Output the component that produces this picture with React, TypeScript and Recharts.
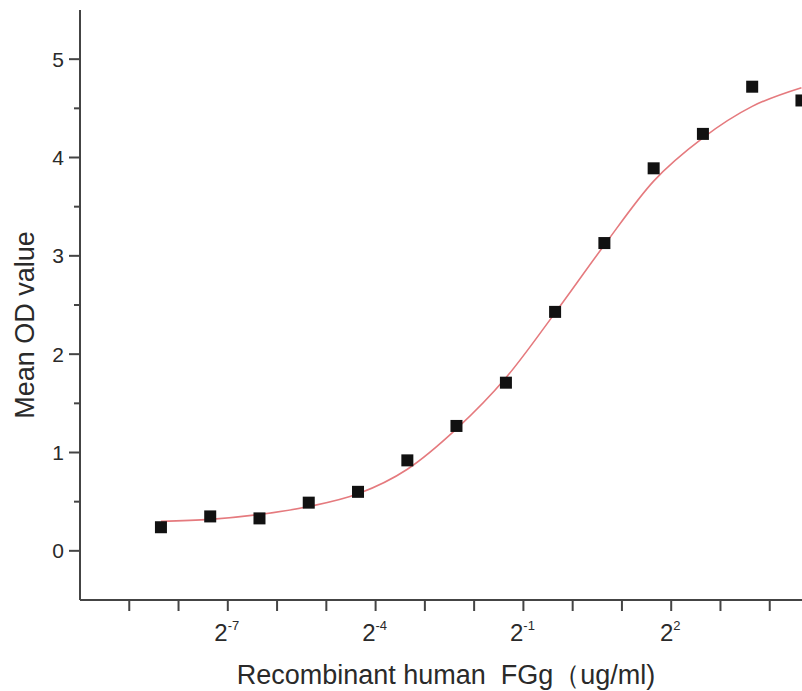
import React from "react";
import { ComposedChart, Label, Line, Scatter, XAxis, YAxis } from "recharts";

// 2-fold dilution series, ug/ml
const concentrations = [
  0.00305, 0.0061, 0.0122, 0.0244, 0.0488, 0.0977, 0.195, 0.391, 0.781, 1.5625, 3.125, 6.25, 12.5, 25,
];
const meanOd = [0.24, 0.35, 0.33, 0.49, 0.6, 0.92, 1.27, 1.71, 2.43, 3.13, 3.89, 4.24, 4.72, 4.58];
const fittedOd = [0.3, 0.32, 0.37, 0.45, 0.58, 0.83, 1.24, 1.76, 2.42, 3.11, 3.76, 4.2, 4.52, 4.71];

const xTickExponents = [-9, -8, -7, -6, -5, -4, -3, -2, -1, 0, 1, 2, 3, 4];
const xLabelledExponents = [-7, -4, -1, 2];
const yTicks = [0, 0.5, 1, 1.5, 2, 2.5, 3, 3.5, 4, 4.5, 5];

const font = '"Liberation Sans", Arial, sans-serif';
const axisColor = "#444";
const textColor = "#2a2a2a";

const chartData = concentrations.map((conc, i) => ({
  conc,
  od: meanOd[i],
  fit: fittedOd[i],
}));

const XTick = (props: any) => {
  const { x, y, payload } = props;
  const exp = Math.round(Math.log2(payload.value));
  const labelled = xLabelledExponents.includes(exp);
  return (
    <g>
      <line x1={x} y1={y} x2={x} y2={y + 11} stroke={axisColor} strokeWidth={2} />
      {labelled && (
        <text x={x - 1} y={641} textAnchor="middle" fontFamily={font} fill={textColor}>
          <tspan fontSize={24}>2</tspan>
          <tspan fontSize={13} dy={-11}>
            {exp}
          </tspan>
        </text>
      )}
    </g>
  );
};

const YTick = (props: any) => {
  const { x, y, payload } = props;
  const major = Number.isInteger(payload.value);
  return (
    <g>
      <line x1={x} y1={y} x2={x - (major ? 11 : 6)} y2={y} stroke={axisColor} strokeWidth={2} />
      {major && (
        <text
          x={64}
          y={y}
          dy="0.36em"
          textAnchor="end"
          fontFamily={font}
          fontSize={21}
          fill={textColor}
        >
          {payload.value}
        </text>
      )}
    </g>
  );
};

const SquareMarker = (props: any) => {
  const { cx, cy } = props;
  if (cx == null || cy == null) return <g />;
  return <rect x={cx - 6} y={cy - 6} width={12} height={12} fill="#111" />;
};

export default function App() {
  return (
    <div style={{ width: 802, height: 691, overflow: "hidden", background: "#fff" }}>
      <style>{`body{margin:0;background:#fff}`}</style>
      <ComposedChart
        width={830}
        height={691}
        data={chartData}
        margin={{ top: 10, right: 11, bottom: 0, left: 0 }}
      >
        <XAxis
          dataKey="conc"
          type="number"
          scale="log"
          domain={[Math.pow(2, -10), Math.pow(2, 5)]}
          ticks={xTickExponents.map((e) => Math.pow(2, e))}
          interval={0}
          height={91}
          tickSize={0}
          tickMargin={0}
          tickLine={false}
          tick={<XTick />}
          axisLine={{ stroke: axisColor, strokeWidth: 2 }}
        >
          <Label
            content={() => (
              <text
                x={446}
                y={684}
                textAnchor="middle"
                fontFamily={font}
                fontSize={27}
                fill={textColor}
              >
                {"Recombinant human\u00a0 FGg（ug/ml)"}
              </text>
            )}
          />
        </XAxis>
        <YAxis
          type="number"
          domain={[-0.5, 5.5]}
          ticks={yTicks}
          interval={0}
          width={80}
          tickSize={0}
          tickMargin={0}
          tickLine={false}
          tick={<YTick />}
          axisLine={{ stroke: axisColor, strokeWidth: 2 }}
        >
          <Label
            content={() => (
              <text
                x={34}
                y={325}
                transform="rotate(-90 34 325)"
                textAnchor="middle"
                fontFamily={font}
                fontSize={27}
                fill={textColor}
              >
                Mean OD value
              </text>
            )}
          />
        </YAxis>
        <Line
          type="monotone"
          dataKey="fit"
          stroke="#e57a7e"
          strokeWidth={1.6}
          dot={false}
          activeDot={false}
          isAnimationActive={false}
        />
        <Scatter dataKey="od" fill="#111" shape={<SquareMarker />} isAnimationActive={false} />
      </ComposedChart>
    </div>
  );
}
